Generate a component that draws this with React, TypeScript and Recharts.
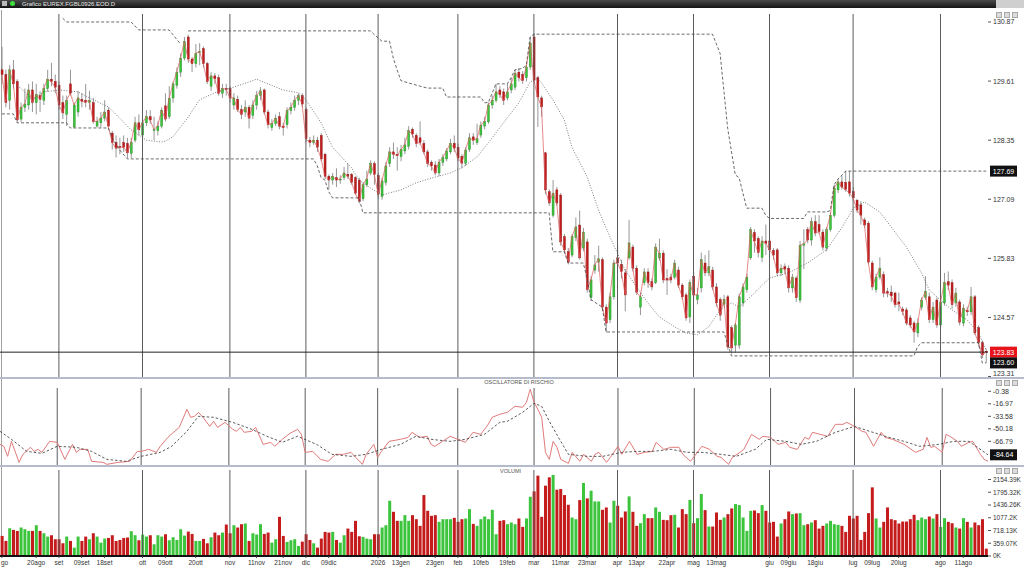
import React from "react";
import { ComposedChart, Bar, Line, XAxis, YAxis, ReferenceLine, Cell } from "recharts";

// daily FGBL candles, Aug 2025 -> Aug 2026 (260 sessions)
const opens = [
  129.85,129.75,129.20,129.85,129.60,128.80,129.05,129.10,129.42,129.15,129.30,129.20,129.45,129.65,129.60,
  129.52,129.15,128.90,129.55,128.63,128.95,129.22,129.20,129.15,129.15,128.65,128.72,128.82,128.99,128.50,128.30,128.22,128.30,128.28,128.07,128.35,128.72,
  128.46,128.72,128.85,128.56,128.55,128.65,129.08,128.85,129.25,129.52,129.80,130.10,130.55,130.08,129.98,130.22,130.30,129.98,129.50,129.72,129.68,129.35,129.45,
  129.45,129.10,129.22,129.00,128.95,129.05,128.88,129.10,129.30,129.42,128.95,128.62,128.70,128.85,128.65,128.68,128.98,129.05,129.20,129.30,
  129.00,128.35,128.30,128.35,128.45,128.05,127.58,127.50,127.55,127.50,127.55,127.62,127.62,127.55,127.50,127.10,127.40,127.65,127.85,
  127.60,127.15,127.45,127.85,128.10,128.05,128.00,128.12,128.22,128.58,128.45,128.40,128.28,128.10,127.88,127.82,127.65,127.88,127.95,128.10,128.28,
  128.20,128.00,127.86,128.15,128.42,128.30,128.46,128.65,128.74,129.10,129.20,129.42,129.38,129.25,129.42,129.48,129.80,129.75,129.68,129.91,
  130.55,129.68,129.25,128.08,127.25,126.75,127.29,127.18,126.29,125.97,125.90,126.27,126.54,126.05,126.18,124.99,125.58,125.75,125.80,124.79,124.52,125.01,
  125.84,125.70,125.52,125.84,126.07,125.62,124.79,125.31,125.54,125.33,125.31,125.84,125.94,125.40,125.43,125.43,125.58,125.26,125.05,124.58,
  125.45,124.95,125.20,125.73,125.52,125.58,125.22,124.95,124.85,125.01,124.35,123.98,123.98,124.88,125.16,125.84,126.38,126.25,125.85,126.20,
  126.20,126.00,126.01,125.52,125.65,125.62,125.20,125.41,124.94,126.11,126.44,126.22,126.61,126.55,126.39,126.05,126.44,126.75,127.29,127.46,127.45,127.46,
  127.25,127.07,126.97,126.65,126.58,125.73,125.16,125.43,125.48,125.12,125.11,125.09,124.90,124.75,124.73,124.56,124.45,124.24,124.79,125.00,125.01,124.52,124.94,
  124.41,124.88,125.33,125.31,124.88,124.90,124.45,124.72,124.69,125.01,124.35,124.03,123.85,
];
const highs = [
  130.34,129.85,129.95,130.06,129.65,129.15,129.45,129.55,129.60,129.55,129.40,129.55,129.85,130.00,129.75,
  129.60,129.30,129.30,129.85,129.15,129.40,129.35,129.55,129.40,129.25,128.85,128.95,129.20,129.05,128.55,128.45,128.40,128.45,128.40,128.40,128.85,128.90,
  128.80,128.99,128.99,128.85,128.75,129.05,129.35,129.50,129.60,129.90,130.20,130.55,130.60,130.12,130.40,130.42,130.35,130.02,129.80,129.78,129.75,129.55,129.55,
  129.50,129.35,129.30,129.10,129.20,129.10,129.20,129.40,129.48,129.45,129.00,128.80,128.90,128.95,128.72,129.05,129.15,129.30,129.35,129.35,
  129.05,128.42,128.45,128.42,128.50,128.08,127.62,127.65,127.75,127.60,127.78,127.85,127.65,127.58,127.55,127.45,127.70,127.92,127.90,
  127.65,127.55,127.88,128.20,128.30,128.20,128.25,128.40,128.65,128.62,128.50,128.75,128.35,128.15,127.92,127.90,127.95,128.05,128.18,128.38,128.45,
  128.28,128.05,128.20,128.50,128.50,128.70,128.75,128.85,129.15,129.30,129.55,129.50,129.45,129.55,129.68,129.85,129.88,129.82,129.95,130.55,
  130.61,129.72,129.30,128.10,127.30,127.50,127.35,127.22,126.35,126.05,126.35,126.70,126.85,126.48,126.25,125.45,125.90,126.10,125.85,124.85,125.10,125.80,
  126.10,125.80,125.60,126.65,126.12,125.68,125.10,125.62,125.62,125.40,126.15,126.25,126.00,125.60,125.50,125.80,125.65,125.30,125.10,125.38,
  125.55,125.20,125.95,125.90,126.00,125.65,125.30,125.00,125.05,125.05,124.40,124.45,125.08,125.30,125.50,126.50,126.45,126.30,126.30,126.55,
  126.25,126.05,126.05,125.70,125.72,125.68,125.50,125.45,126.20,126.45,126.50,126.70,126.75,126.75,126.45,126.50,126.82,127.40,127.52,127.60,127.69,127.69,
  127.35,127.10,127.05,126.70,126.62,125.78,125.50,125.85,125.55,125.20,125.25,125.12,125.10,124.80,124.78,124.62,124.50,124.55,125.00,125.45,125.10,124.90,125.00,
  125.00,125.52,125.55,125.38,125.20,124.95,124.85,124.80,125.22,125.05,124.40,124.08,123.90,
];
const lows = [
  129.55,129.05,129.00,129.45,128.74,128.74,128.95,129.00,128.95,128.90,128.95,129.10,129.38,129.50,129.35,
  129.00,128.80,128.65,129.30,128.62,128.85,129.05,129.05,129.00,128.70,128.62,128.62,128.75,128.62,128.15,127.98,128.05,128.10,127.97,127.97,128.30,128.45,
  128.40,128.65,128.70,128.35,128.45,128.60,128.75,128.80,129.15,129.45,129.70,130.05,130.00,129.80,129.90,129.95,129.90,129.55,129.40,129.55,129.30,129.25,129.30,
  129.15,129.00,128.95,128.80,128.85,128.60,128.80,129.00,129.20,128.90,128.60,128.55,128.65,128.58,128.45,128.60,128.90,128.98,129.10,129.05,
  128.30,128.20,128.25,128.10,127.90,127.52,127.30,127.40,127.35,127.42,127.50,127.52,127.40,127.18,127.00,127.05,127.35,127.60,127.40,
  127.10,127.08,127.38,127.78,127.95,127.70,127.90,128.05,128.15,128.40,128.20,128.25,128.05,127.78,127.70,127.60,127.58,127.80,127.90,128.05,128.10,
  127.90,127.75,127.80,128.10,128.25,128.25,128.40,128.58,128.70,129.02,129.15,129.25,129.10,129.20,129.35,129.42,129.60,129.55,129.60,129.85,
  129.55,128.63,128.85,127.20,126.95,126.70,126.95,126.10,125.95,125.70,125.85,126.20,125.80,125.98,125.10,124.92,125.50,125.55,124.70,124.25,124.45,124.95,
  125.65,125.40,124.70,125.80,125.55,125.05,124.62,125.25,125.20,125.15,125.28,125.78,125.30,125.05,125.30,125.38,125.20,124.95,124.50,124.45,
  124.95,124.85,125.10,125.45,125.45,125.15,124.80,124.50,124.80,123.88,123.80,123.82,123.90,124.80,125.10,125.80,125.95,125.85,125.75,125.90,
  125.95,125.80,125.45,125.45,125.50,125.10,125.10,124.90,124.88,125.60,126.15,126.10,126.30,126.35,126.00,125.98,126.40,126.70,127.22,127.30,127.25,127.15,
  127.05,126.80,126.55,126.48,125.70,125.15,125.10,125.38,125.00,125.00,124.90,124.78,124.70,124.62,124.40,124.35,124.03,124.15,124.72,124.95,124.45,124.45,124.35,
  124.35,124.82,125.15,124.75,124.80,124.40,124.38,124.60,124.62,124.20,123.95,123.70,123.60,
];
const closes = [
  129.75,129.15,129.85,129.55,128.78,129.05,129.12,129.42,129.15,129.32,129.22,129.45,129.65,129.60,129.48,
  129.10,128.93,129.20,129.35,129.10,129.25,129.18,129.16,129.20,128.75,128.75,128.82,128.95,128.65,128.30,128.18,128.20,128.20,128.08,128.30,128.72,128.57,
  128.72,128.85,128.78,128.58,128.65,128.99,128.80,129.24,129.55,129.80,130.10,130.45,130.08,129.98,130.20,130.24,129.98,129.60,129.72,129.66,129.35,129.45,129.44,
  129.25,129.25,129.00,128.90,129.05,128.82,129.10,129.30,129.40,128.95,128.68,128.70,128.82,128.65,128.62,128.98,129.05,129.20,129.30,129.12,
  128.38,128.30,128.35,128.20,127.95,127.58,127.50,127.58,127.50,127.52,127.65,127.58,127.45,127.22,127.05,127.40,127.52,127.86,127.62,
  127.20,127.48,127.80,128.10,128.05,128.02,128.15,128.25,128.55,128.48,128.28,128.30,128.10,127.85,127.80,127.65,127.88,127.98,128.12,128.28,128.18,
  127.97,127.86,128.14,128.40,128.35,128.38,128.67,128.75,129.10,129.20,129.38,129.32,129.20,129.38,129.55,129.78,129.68,129.62,129.91,130.42,
  129.63,129.27,129.06,127.29,127.01,127.22,127.01,126.18,126.01,125.75,126.29,126.50,125.84,126.39,125.16,125.37,125.69,125.82,124.79,124.45,125.01,125.73,
  125.73,125.55,125.05,126.16,125.62,125.11,125.01,125.54,125.31,125.22,126.07,125.94,125.37,125.37,125.37,125.73,125.26,125.01,124.56,125.31,
  125.05,125.05,125.80,125.52,125.65,125.22,124.88,124.62,124.95,123.94,123.92,124.41,125.01,125.22,125.43,126.44,126.20,125.95,126.20,126.15,
  126.01,125.90,125.52,125.62,125.60,125.20,125.43,124.99,126.11,126.14,126.22,126.61,126.37,126.40,126.07,126.44,126.75,127.33,127.46,127.35,127.30,127.22,
  127.12,126.86,126.75,126.54,125.75,125.22,125.43,125.62,125.09,125.09,125.03,124.84,124.86,124.70,124.45,124.41,124.26,124.45,124.94,125.12,124.52,124.79,124.41,
  124.90,125.31,125.26,124.84,125.09,124.47,124.77,124.69,125.01,124.24,124.03,123.77,123.83,
];
// volume in thousands of contracts
const volumes = [
  566,424,782,735,707,802,754,707,707,867,707,641,547,585,472,
  472,358,547,424,236,547,424,547,472,641,547,377,490,509,585,424,452,509,519,698,585,443,
  603,547,585,330,585,547,613,443,528,452,754,575,688,622,424,424,481,358,528,660,585,660,886,
  641,867,802,896,915,424,641,603,896,622,660,377,472,1103,566,396,443,472,283,405,
  613,452,358,236,490,679,660,679,452,377,585,773,679,990,556,537,490,472,613,
  613,802,867,1556,1245,990,990,1150,990,1150,1037,849,1716,1273,1132,1150,962,1037,1037,1037,1075,
  962,1037,1056,1320,905,849,1037,1113,1037,1301,613,990,1009,896,943,896,1056,820,1056,1669,
  1820,2263,1103,1980,2216,2282,1867,1886,1716,1443,1084,1037,1575,2056,1622,1839,1537,1537,1301,1367,943,1556,
  1415,1084,1254,1679,1245,849,924,1179,1066,1066,1367,1245,1018,1009,1150,1160,802,1320,1179,1580,
  924,1066,1745,1292,830,830,1226,1018,1084,1179,1339,1462,1434,1084,707,1273,1283,1207,1434,1273,
  943,962,547,915,1037,1254,1179,1198,1207,868,896,943,1009,773,849,915,990,896,877,849,679,1132,
  1056,1132,453,679,1207,1933,1056,802,962,1367,1037,1009,915,971,971,1037,1160,1009,1084,1037,1113,1056,1179,
  820,1066,962,924,802,773,1066,962,802,943,868,1037,207,
];

// [session index, value] knots
const trendKnots = [
  [4,129.50],[5,129.46],[8,129.21],[11,129.38],[15,129.42],[20,129.38],[24,129.21],[28,129.06],[31,128.82],[34,128.57],
  [38,128.35],[42,128.31],[43,128.33],[45,128.42],[49,128.84],[52,129.21],[56,129.36],[61,129.48],[65,129.59],[67,129.65],
  [74,129.42],[78,129.36],[80,129.21],[84,128.72],[87,128.20],[92,127.76],[94,127.50],[97,127.33],[100,127.18],[105,127.29],
  [109,127.44],[113,127.54],[118,127.65],[121,127.76],[125,127.99],[128,128.29],[132,128.72],[136,129.14],[139,129.59],[141,129.67],
  [142,129.57],[145,129.21],[148,128.78],[150,128.20],[154,127.57],[157,126.86],[160,126.29],[162,125.94],[164,125.58],[167,125.22],
  [170,124.88],[173,124.58],[177,124.37],[180,124.24],[183,124.20],[186,124.37],[189,124.73],[192,124.88],[194,124.79],[197,125.01],
  [202,125.41],[207,125.52],[212,125.73],[217,126.01],[221,126.48],[223,126.75],[224,126.90],[227,127.03],[231,126.82],[234,126.50],
  [238,126.07],[242,125.52],[244,125.16],[247,124.94],[250,124.73],[254,124.52],[257,124.24],[259,123.88],
];
const upperKnotsA = [[16,130.95],[17,130.87],[34,130.87],[36,130.70],[44,130.70],[45,130.60],[47,130.40]];
const upperKnotsB = [
  [49,130.68],[97,130.68],[98,130.60],[100,130.46],[102,130.46],[103,130.10],[104,129.85],[105,129.62],[107,129.57],[111,129.48],
  [112,129.46],[116,129.46],[117,129.27],[126,129.27],[127,129.15],[128,129.15],[130,129.55],[133,129.55],[134,129.68],[135,129.85],
  [137,129.88],[138,129.95],[139,130.55],[140,130.61],[187,130.61],[189,130.20],[191,128.60],[193,127.61],[194,127.55],[196,126.90],
  [200,126.90],[201,126.75],[202,126.68],[211,126.68],[212,126.82],[217,126.82],[218,126.85],[219,127.40],[220,127.52],[221,127.60],
  [222,127.69],[259,127.69],
];
const lowerKnots = [
  [0,128.91],[3,128.91],[4,128.72],[17,128.72],[18,128.61],[28,128.61],[29,128.40],[31,128.14],[33,127.95],[82,127.95],
  [83,127.80],[84,127.55],[85,127.50],[86,127.25],[87,127.12],[94,127.12],[95,126.80],[144,126.80],[145,125.97],[148,125.97],
  [149,125.73],[153,125.73],[154,125.40],[155,124.95],[158,124.79],[159,124.26],[190,124.26],[191,124.00],[192,123.75],[240,123.75],
  [241,123.95],[242,124.03],[257,124.03],[258,123.60],[259,123.60],
];
const oscKnots = [
  [0,-70.8],[1,-73.4],[2,-86.7],[3,-66.8],[5,-94.7],[6,-84.0],[8,-74.7],[9,-80.1],[10,-77.4],[11,-81.4],[13,-66.8],[15,-68.1],
  [17,-90.7],[19,-70.8],[20,-81.4],[21,-77.4],[23,-77.4],[24,-93.3],[27,-94.7],[28,-97.3],[31,-94.7],[34,-93.3],[36,-80.1],[37,-80.1],
  [39,-77.4],[41,-81.4],[42,-73.4],[44,-61.5],[47,-48.2],[49,-24.3],[50,-34.9],[51,-33.6],[52,-28.3],[53,-33.6],[55,-46.9],[56,-40.2],
  [57,-48.2],[59,-41.6],[61,-50.8],[62,-53.5],[63,-48.2],[64,-54.8],[66,-53.5],[67,-48.2],[69,-70.8],[71,-68.1],[72,-73.4],[74,-64.1],
  [76,-56.2],[78,-50.8],[79,-57.5],[80,-81.4],[82,-80.1],[84,-90.7],[86,-93.3],[88,-84.0],[90,-84.0],[92,-81.4],[93,-86.7],[95,-97.3],
  [96,-84.0],[98,-70.8],[99,-88.0],[100,-80.1],[102,-66.8],[105,-64.1],[107,-61.5],[108,-54.8],[110,-61.5],[112,-60.1],[113,-70.8],[114,-73.4],
  [116,-66.8],[118,-60.1],[120,-64.1],[122,-68.1],[124,-54.8],[126,-57.5],[128,-44.2],[129,-34.9],[131,-30.9],[133,-28.3],[135,-20.3],[137,-21.6],
  [138,-15.0],[139,2.3],[140,-15.0],[141,-24.3],[142,-34.9],[143,-81.4],[144,-90.7],[145,-66.8],[146,-74.7],[147,-90.7],[149,-96.0],[150,-81.4],
  [152,-93.3],[153,-84.0],[155,-93.3],[156,-84.0],[157,-81.4],[159,-94.7],[160,-88.0],[162,-73.4],[163,-84.0],[165,-66.8],[167,-84.0],[169,-81.4],
  [171,-80.1],[172,-68.1],[174,-77.4],[176,-74.7],[178,-74.7],[179,-84.0],[181,-93.3],[182,-86.7],[184,-73.4],[186,-77.4],[188,-86.7],[189,-88.0],
  [191,-97.3],[192,-88.0],[194,-81.4],[195,-77.4],[197,-57.5],[199,-64.1],[200,-60.1],[202,-61.5],[204,-70.8],[206,-68.1],[207,-74.7],[209,-77.4],
  [211,-61.5],[212,-64.1],[213,-54.8],[215,-57.5],[217,-60.1],[219,-44.2],[221,-44.2],[222,-41.6],[224,-46.9],[226,-53.5],[227,-54.8],[229,-73.4],
  [231,-54.8],[232,-61.5],[234,-64.1],[237,-70.8],[240,-81.4],[242,-77.4],[243,-61.5],[244,-74.7],[245,-73.4],[247,-81.4],[248,-57.5],[249,-60.1],
  [251,-66.8],[252,-73.4],[254,-68.1],[255,-66.8],[257,-84.0],[258,-90.7],[259,-93.3],
];
const sigKnots = [
  [0,-53.5],[3,-64.1],[7,-80.1],[11,-82.7],[15,-73.4],[20,-74.7],[24,-80.1],[28,-90.7],[33,-93.3],[37,-86.7],[42,-81.4],[45,-73.4],
  [49,-53.5],[52,-33.6],[56,-34.9],[61,-41.6],[66,-50.8],[70,-60.1],[74,-68.1],[78,-60.1],[83,-70.8],[87,-84.0],[92,-86.7],[96,-84.0],
  [100,-77.4],[105,-70.8],[109,-60.1],[113,-64.1],[118,-66.8],[122,-64.1],[127,-57.5],[131,-41.6],[133,-40.2],[137,-28.3],[140,-16.3],[142,-20.3],
  [144,-40.2],[147,-66.8],[149,-84.0],[154,-86.7],[158,-86.7],[163,-81.4],[167,-80.1],[171,-80.1],[176,-77.4],[180,-81.4],[184,-81.4],[189,-84.0],
  [193,-86.7],[198,-77.4],[201,-64.1],[206,-66.8],[210,-70.8],[214,-66.8],[219,-54.8],[224,-46.9],[228,-53.5],[233,-61.5],[237,-66.8],[241,-73.4],
  [246,-70.8],[250,-66.8],[254,-66.8],[259,-84.64],
];

const monthStarts = [15, 37, 60, 80, 99, 120, 140, 162, 182, 202, 224, 247];
const tickIdx = [0,9,15,21,27,37,43,51,60,67,74,80,86,99,105,114,120,126,133,140,147,154,162,167,175,182,188,202,207,214,224,229,236,247,253];
const tickText = ["go","20ago","set","09set","18set","ott","09ott","20ott","nov","11nov","21nov","dic","09dic","2026","13gen","23gen","feb","10feb","19feb","mar","11mar","23mar","apr","13apr","22apr","mag","13mag","giu","09giu","18giu","lug","09lug","20lug","ago","11ago"];
const priceTicks = [130.87, 129.61, 128.35, 127.09, 125.83, 124.57, 123.31];
const oscTicks = [-0.38, -16.97, -33.58, -50.18, -66.79];
const volTicks = [0, 359.07, 718.13, 1077.2, 1436.26, 1795.32, 2154.39];

const rows: any[] = opens.map((o, i) => ({
  i, o, h: highs[i], l: lows[i], c: closes[i], range: [lows[i], highs[i]], vol: volumes[i],
  trend: null, upA: null, upB: null, stop: null, osc: null, sig: null,
}));
const put = (knots: number[][], key: string) => knots.forEach(([i, v]) => { rows[i][key] = v; });
put(trendKnots, "trend");
put(upperKnotsA, "upA");
put(upperKnotsB, "upB");
put(lowerKnots, "stop");
put(oscKnots, "osc");
put(sigKnots, "sig");

const tickMap: Record<number, string> = {};
tickIdx.forEach((t, k) => { tickMap[t] = tickText[k]; });

const GREEN = "#3cc43c";
const RED = "#c41c1c";

function Candle(props: any) {
  const { x, y, width, height, payload } = props;
  if (!payload) return null;
  const { o, h, l, c } = payload;
  const top = height < 0 ? y + height : y;
  const hh = Math.abs(height);
  const k = h > l ? hh / (h - l) : 0;
  const yo = top + (h - o) * k;
  const yc = top + (h - c) * k;
  const up = c >= o;
  const cx = x + width / 2;
  return (
    <g>
      <line x1={cx} x2={cx} y1={top} y2={top + hh} stroke="#7c7c7c" strokeWidth={0.8} />
      <rect x={x} y={Math.min(yo, yc)} width={width} height={Math.max(0.9, Math.abs(yo - yc))}
        fill={up ? GREEN : RED} stroke={up ? "#1f8a1f" : "#8a1010"} strokeWidth={0.4} />
    </g>
  );
}

function Tag(props: any) {
  const { viewBox, text, bg } = props;
  if (!viewBox) return null;
  const x = viewBox.x + viewBox.width + 2;
  const y = viewBox.y;
  return (
    <g>
      <rect x={x} y={y - 5.5} width={27} height={11} fill={bg} />
      <text x={x + 13.5} y={y + 2.5} textAnchor="middle" fontSize={7} fill="#fff">{text}</text>
    </g>
  );
}

// right-axis price label; the lowest one is lifted so it stays inside the panel
function PriceTick(props: any) {
  const { x, y, payload } = props;
  const v = payload.value as number;
  const lift = v === 123.31 ? -3 : 0;
  return (
    <text x={x} y={y + lift} dy="0.35em" textAnchor="start" fontSize={7} fill="#333">{v.toFixed(2)}</text>
  );
}

function DateTick(props: any) {
  const { x, y, payload } = props;
  const label = tickMap[payload.value] ?? "";
  const first = payload.value === 0;
  return (
    <text x={first ? 1 : x} y={y} dy="0.71em" textAnchor={first ? "start" : "middle"} fontSize={6.5} fill="#333">{label}</text>
  );
}

function Buttons({ top }: { top: number }) {
  return (
    <>
      {[996, 1004, 1012].map((l) => (
        <div key={l} style={{ position: "absolute", left: l, top, width: 6, height: 6, background: "#dcdcdc", border: "1px solid #a8a8a8", boxSizing: "border-box" }} />
      ))}
    </>
  );
}

const months = monthStarts.map((m) => <ReferenceLine key={m} x={m} stroke="#5c5c5c" strokeWidth={1} />);
const axisTick = { fontSize: 7, fill: "#333" };

export default function App() {
  return (
    <div style={{ position: "absolute", left: 0, top: 0, width: 1024, height: 570, background: "#fff", overflow: "hidden", fontFamily: "'Liberation Sans', Arial, sans-serif" }}>
      {/* title bar */}
      <div style={{ position: "absolute", left: 0, top: 0, width: 1024, height: 8, background: "linear-gradient(#4a4a4a,#151515)" }} />
      <div style={{ position: "absolute", left: 2, top: 1, width: 5, height: 5, background: "#bbb" }} />
      <div style={{ position: "absolute", left: 10, top: 1, width: 5, height: 5, borderRadius: 3, background: "#3de03d" }} />
      <div style={{ position: "absolute", left: 22, top: 0, fontSize: 6, lineHeight: "8px", color: "#e8e8e8" }}>Grafico EUREX.FGBL0926.EOD.D</div>
      <div style={{ position: "absolute", left: 996, top: 0, width: 28, height: 8, background: "#cfcfcf" }} />

      <div style={{ position: "absolute", left: 1, top: 10, width: 1, height: 547, background: "#a0a0a0" }} />

      {/* price panel */}
      <div style={{ position: "absolute", left: 0, top: 10 }}>
        <ComposedChart width={1024} height={367} data={rows} margin={{ top: 4, right: 0, bottom: 0, left: 0 }} barCategoryGap="28%">
          <XAxis dataKey="i" type="category" hide />
          <YAxis orientation="right" width={36} domain={[123.30, 131.04]} allowDataOverflow ticks={priceTicks} interval={0}
            axisLine={false} tickSize={3} tickLine={{ stroke: "#555" }} tick={(p: any) => <PriceTick {...p} />} />
          {months}
          <ReferenceLine y={123.83} stroke="#222" strokeWidth={1} label={<Tag text="123.83" bg="#e8141c" />} />
          <ReferenceLine y={127.69} stroke="none" label={<Tag text="127.69" bg="#111" />} />
          <ReferenceLine y={123.60} stroke="none" label={<Tag text="123.60" bg="#111" />} />
          <Line dataKey="c" stroke="#e05858" strokeWidth={0.7} dot={false} isAnimationActive={false} />
          <Bar dataKey="range" shape={(p: any) => <Candle {...p} />} isAnimationActive={false} />
          <Line dataKey="trend" connectNulls stroke="#5a5a5a" strokeWidth={0.8} strokeDasharray="1 1.6" dot={false} isAnimationActive={false} />
          <Line dataKey="upA" connectNulls stroke="#444" strokeWidth={0.8} strokeDasharray="3 2" dot={false} isAnimationActive={false} />
          <Line dataKey="upB" connectNulls stroke="#444" strokeWidth={0.8} strokeDasharray="3 2" dot={false} isAnimationActive={false} />
          <Line dataKey="stop" connectNulls stroke="#444" strokeWidth={0.8} strokeDasharray="3 2" dot={false} isAnimationActive={false} />
        </ComposedChart>
      </div>
      <Buttons top={12} />

      <div style={{ position: "absolute", left: 0, top: 377, width: 1024, height: 2, background: "#b4bccb" }} />

      {/* risk oscillator */}
      <div style={{ position: "absolute", left: 0, top: 383 }}>
        <ComposedChart width={1024} height={83} data={rows} margin={{ top: 5, right: 0, bottom: 0, left: 0 }}>
          <XAxis dataKey="i" type="category" hide />
          <YAxis orientation="right" width={36} domain={[-99.5, 4]} allowDataOverflow ticks={oscTicks} interval={0}
            axisLine={false} tickSize={3} tickLine={{ stroke: "#555" }} tick={axisTick} tickFormatter={(v: number) => v.toFixed(2)} />
          {months}
          <ReferenceLine y={-84.64} stroke="none" label={<Tag text="-84.64" bg="#111" />} />
          <Line dataKey="osc" connectNulls stroke="#e07a7a" strokeWidth={1} dot={false} isAnimationActive={false} />
          <Line dataKey="sig" connectNulls stroke="#333" strokeWidth={0.8} strokeDasharray="2.5 2" dot={false} isAnimationActive={false} />
        </ComposedChart>
      </div>
      <div style={{ position: "absolute", left: 0, width: 1024, top: 379, textAlign: "center", fontSize: 5.5, color: "#555", paddingLeft: 14, boxSizing: "border-box" }}>OSCILLATORE DI RISCHIO</div>
      <Buttons top={380} />

      <div style={{ position: "absolute", left: 0, top: 465, width: 1024, height: 2, background: "#b4bccb" }} />

      {/* volume */}
      <div style={{ position: "absolute", left: 0, top: 466 }}>
        <ComposedChart width={1024} height={104} data={rows} margin={{ top: 4, right: 0, bottom: 0, left: 0 }} barCategoryGap="16%">
          <XAxis dataKey="i" type="category" ticks={tickIdx} interval={0} height={14}
            axisLine={{ stroke: "#111", strokeWidth: 2 }} tickSize={2} tickLine={{ stroke: "#444" }} tick={(p: any) => <DateTick {...p} />} />
          <YAxis orientation="right" width={36} domain={[0, 2422]} allowDataOverflow ticks={volTicks} interval={0}
            axisLine={false} tickSize={3} tickLine={{ stroke: "#555" }} tick={{ fontSize: 6.5, fill: "#333" }} tickFormatter={(v: number) => `${v}K`} />
          {months}
          <Bar dataKey="vol" isAnimationActive={false}>
            {rows.map((r) => <Cell key={r.i} fill={r.c >= r.o ? GREEN : RED} />)}
          </Bar>
        </ComposedChart>
      </div>
      <div style={{ position: "absolute", left: 500, top: 468, fontSize: 5.5, color: "#555" }}>VOLUMI</div>
      <Buttons top={468} />
    </div>
  );
}
